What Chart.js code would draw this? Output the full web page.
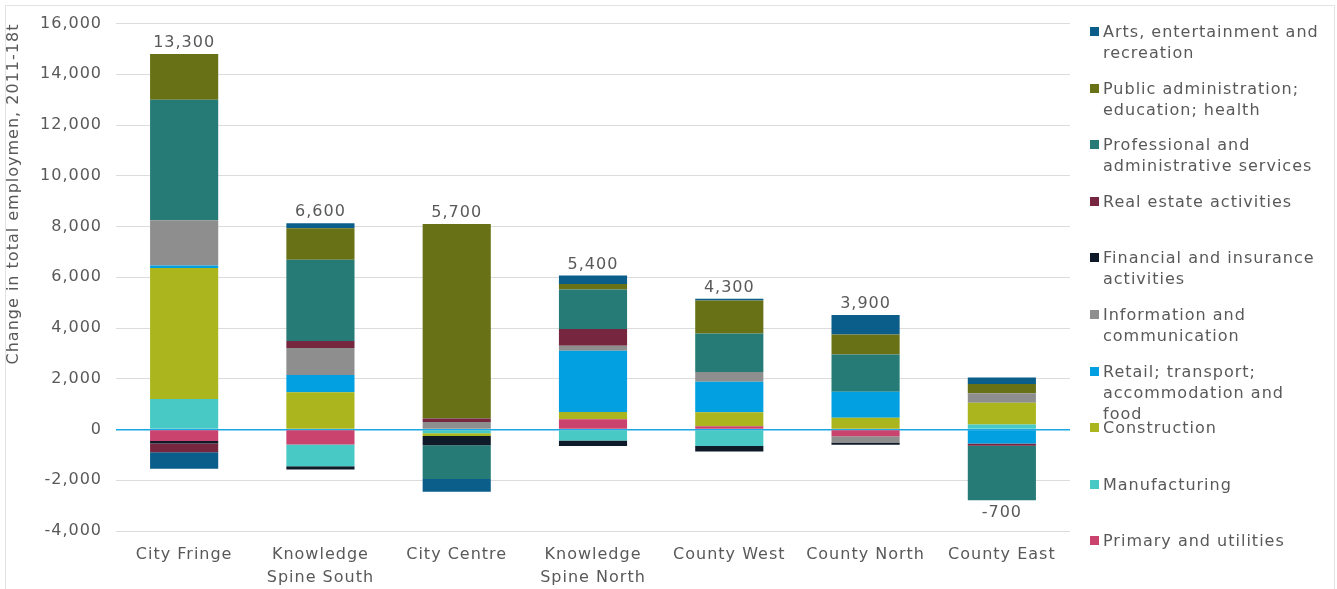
<!DOCTYPE html>
<html>
<head>
<meta charset="utf-8">
<script src="https://cdn.jsdelivr.net/npm/chart.js@4/dist/chart.umd.min.js"></script>
<style>
  html, body { margin: 0; padding: 0; background: #fff; }
  #wrap { position: relative; width: 1337px; height: 589px; overflow: hidden; }
  #frame { position: absolute; left: 5px; top: 5px; right: 2px; bottom: -2px; border: 1px solid #e3e3e3; pointer-events: none; }
  #legend { position: absolute; left: 0; top: 0; }
  .item { position: absolute; left: 1090px; width: 234px; font-family: "DejaVu Sans", sans-serif; font-size: 16px; letter-spacing: 1px; line-height: 21px; color: #595959; }
  .item .box { position: absolute; left: 0; top: 6px; width: 9px; height: 9px; }
  .item .txt { margin-left: 13px; }
</style>
</head>
<body>
<div id="wrap">
  <canvas id="chart" width="1337" height="589"></canvas>
  <div id="legend"></div>
  <div id="frame"></div>
</div>
<script>
// categories along the x axis
const areas = ['City Fringe', ['Knowledge', 'Spine South'], 'City Centre', ['Knowledge', 'Spine North'], 'County West', 'County North', 'County East'];

// sector changes, 2011-18 (bottom of stack first)
const primary       = [-450, -590,     0,   400,  130, -270,   -30];
const manufacturing = [1200, -860,  -150,  -430, -650,    0,   200];
const construction  = [5170, 1470,  -110,   290,  550,  460,   860];
const retail        = [ 100,  680,     0,  2410, 1200, 1030,  -520];
const information   = [1780, 1060,   300,   200,  390, -240,   370];
const financial     = [-100, -130,  -360,  -220, -220,  -90,     0];
const realEstate    = [-350,  280,   130,   660,    0,    0,   -90];
const professional  = [4750, 3200, -1330,  1560, 1510, 1470, -2150];
const publicAdmin   = [1800, 1240,  7670,   220, 1310,  790,   360];
const arts          = [-650,  200,  -500,   330,   60,  760,   260];

// net totals shown on the bars
const totalLabels = ['13,300', '6,600', '5,700', '5,400', '4,300', '3,900', '-700'];
const totalValues = [13300, 6600, 5700, 5400, 4300, 3900, -700];

const yTicks = [-4000, -2000, 0, 2000, 4000, 6000, 8000, 10000, 12000, 14000, 16000];

const sectors = [
  { label: 'Primary and utilities', data: primary, color: '#c9436e' },
  { label: 'Manufacturing', data: manufacturing, color: '#48c9c5' },
  { label: 'Construction', data: construction, color: '#abb51d' },
  { label: 'Retail; transport; accommodation and food', data: retail, color: '#02a0e0' },
  { label: 'Information and communication', data: information, color: '#8e8e8e' },
  { label: 'Financial and insurance activities', data: financial, color: '#0e1a28' },
  { label: 'Real estate activities', data: realEstate, color: '#76263f' },
  { label: 'Professional and administrative services', data: professional, color: '#267b77' },
  { label: 'Public administration; education; health', data: publicAdmin, color: '#687115' },
  { label: 'Arts, entertainment and recreation', data: arts, color: '#0b5d8a' }
];

const textColor = '#595959';
const fontFamily = '"DejaVu Sans", sans-serif';

// the original font runs wider, so space the letters out a bit
const spacingPlugin = {
  id: 'spacing',
  beforeLayout(chart) { chart.ctx.letterSpacing = '1px'; },
  beforeDraw(chart) { chart.ctx.letterSpacing = '1px'; }
};

// writes the totals above (or below) each stack
const totalsPlugin = {
  id: 'totals',
  afterDatasetsDraw(chart) {
    const ctx = chart.ctx;
    const x = chart.scales.x;
    const y = chart.scales.y;
    ctx.save();
    ctx.fillStyle = textColor;
    ctx.font = '16px ' + fontFamily;
    ctx.textAlign = 'center';
    areas.forEach((a, i) => {
      let pos = 0, neg = 0;
      sectors.forEach(s => { const v = s.data[i]; if (v > 0) pos += v; else neg += v; });
      const cx = x.getPixelForValue(i);
      if (totalValues[i] >= 0) {
        ctx.textBaseline = 'bottom';
        ctx.fillText(totalLabels[i], cx, y.getPixelForValue(pos) - 3);
      } else {
        ctx.textBaseline = 'top';
        ctx.fillText(totalLabels[i], cx, y.getPixelForValue(neg) + 5);
      }
    });
    ctx.restore();
  }
};

new Chart(document.getElementById('chart').getContext('2d'), {
  type: 'bar',
  data: {
    labels: areas,
    datasets: sectors.map(s => ({
      label: s.label,
      data: s.data,
      backgroundColor: s.color,
      borderWidth: 0,
      categoryPercentage: 1,
      barPercentage: 0.5
    }))
  },
  options: {
    responsive: false,
    animation: false,
    layout: { padding: { top: 18, right: 267, bottom: 0, left: 0 } },
    plugins: {
      legend: { display: false },
      tooltip: { enabled: false }
    },
    scales: {
      x: {
        stacked: true,
        afterFit(scale) { scale.height = 58; },
        grid: { display: false },
        border: { display: false },
        ticks: { color: textColor, font: { family: fontFamily, size: 16, lineHeight: 1.4 }, padding: 5, maxRotation: 0, autoSkip: false }
      },
      y: {
        stacked: true,
        min: -4000,
        max: 16000,
        afterBuildTicks(scale) { scale.ticks = yTicks.map(v => ({ value: v })); },
        afterFit(scale) { scale.width = 116; },
        grid: {
          drawTicks: false,
          color: c => (c.tick && c.tick.value === 0) ? '#1aa7e6' : '#dcdcdc',
          lineWidth: c => (c.tick && c.tick.value === 0) ? 1.5 : 1
        },
        border: { display: false },
        ticks: {
          color: textColor,
          font: { family: fontFamily, size: 16 },
          padding: 14,
          callback: v => v.toLocaleString('en-US')
        },
        title: {
          display: true,
          text: 'Change in total employmen, 2011-18t',
          align: 'end',
          color: textColor,
          font: { family: fontFamily, size: 16 },
          padding: { top: 4, bottom: 0 }
        }
      }
    }
  },
  plugins: [spacingPlugin, totalsPlugin]
});

// legend on the right, top item first
const legendEl = document.getElementById('legend');
sectors.slice().reverse().forEach((s, i) => {
  const item = document.createElement('div');
  item.className = 'item';
  item.style.top = (21 + i * 56.6) + 'px';
  item.innerHTML = '<span class="box" style="background:' + s.color + '"></span><div class="txt">' + s.label + '</div>';
  legendEl.appendChild(item);
});
</script>
</body>
</html>
